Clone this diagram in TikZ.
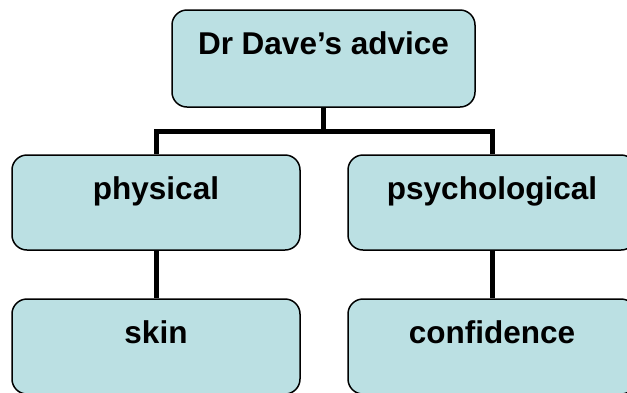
\documentclass[tikz,border=0pt]{standalone}
\usepackage{fontspec}
\setmainfont{Liberation Sans}
\definecolor{boxfill}{RGB}{187,224,227}
\begin{document}
\begin{tikzpicture}[x=1pt,y=-1pt,
  box/.style={draw=black,fill=boxfill,line width=1.5pt,rounded corners=15pt,
    minimum width=288pt,minimum height=95pt,inner sep=0pt},
  lbl/.style={anchor=base,font=\fontsize{31.5}{36}\selectfont\bfseries,inner sep=0pt},
  conn/.style={line width=5pt,draw=black}]
\useasboundingbox (0,0) rectangle (627,392);
\clip (0,0) rectangle (627,392);
\node[box,minimum width=303pt,minimum height=97pt] (top) at (323.5,58.5) {};
\node[box] (phys) at (156,202.5) {};
\node[box] (psych) at (492,202.5) {};
\node[box] (skin) at (156,346.5) {};
\node[box] (conf) at (492,346.5) {};
\coordinate (j) at (323.5,131);
\node[lbl] (tTop) at ([yshift=-45pt]top.north) {Dr Dave’s advice};
\node[lbl] (tPhys) at ([yshift=-45pt]phys.north) {physical};
\node[lbl] (tPsych) at ([yshift=-45pt]psych.north) {psychological};
\node[lbl] (tSkin) at ([yshift=-45pt]skin.north) {skin};
\node[lbl] (tConf) at ([yshift=-45pt]conf.north) {confidence};
\draw[conn] (top.south) -- (j);
\draw[conn] (phys.north) |- (j) -| (psych.north);
\draw[conn] (phys.south) -- (skin.north);
\draw[conn] (psych.south) -- (conf.north);
\end{tikzpicture}
\end{document}
